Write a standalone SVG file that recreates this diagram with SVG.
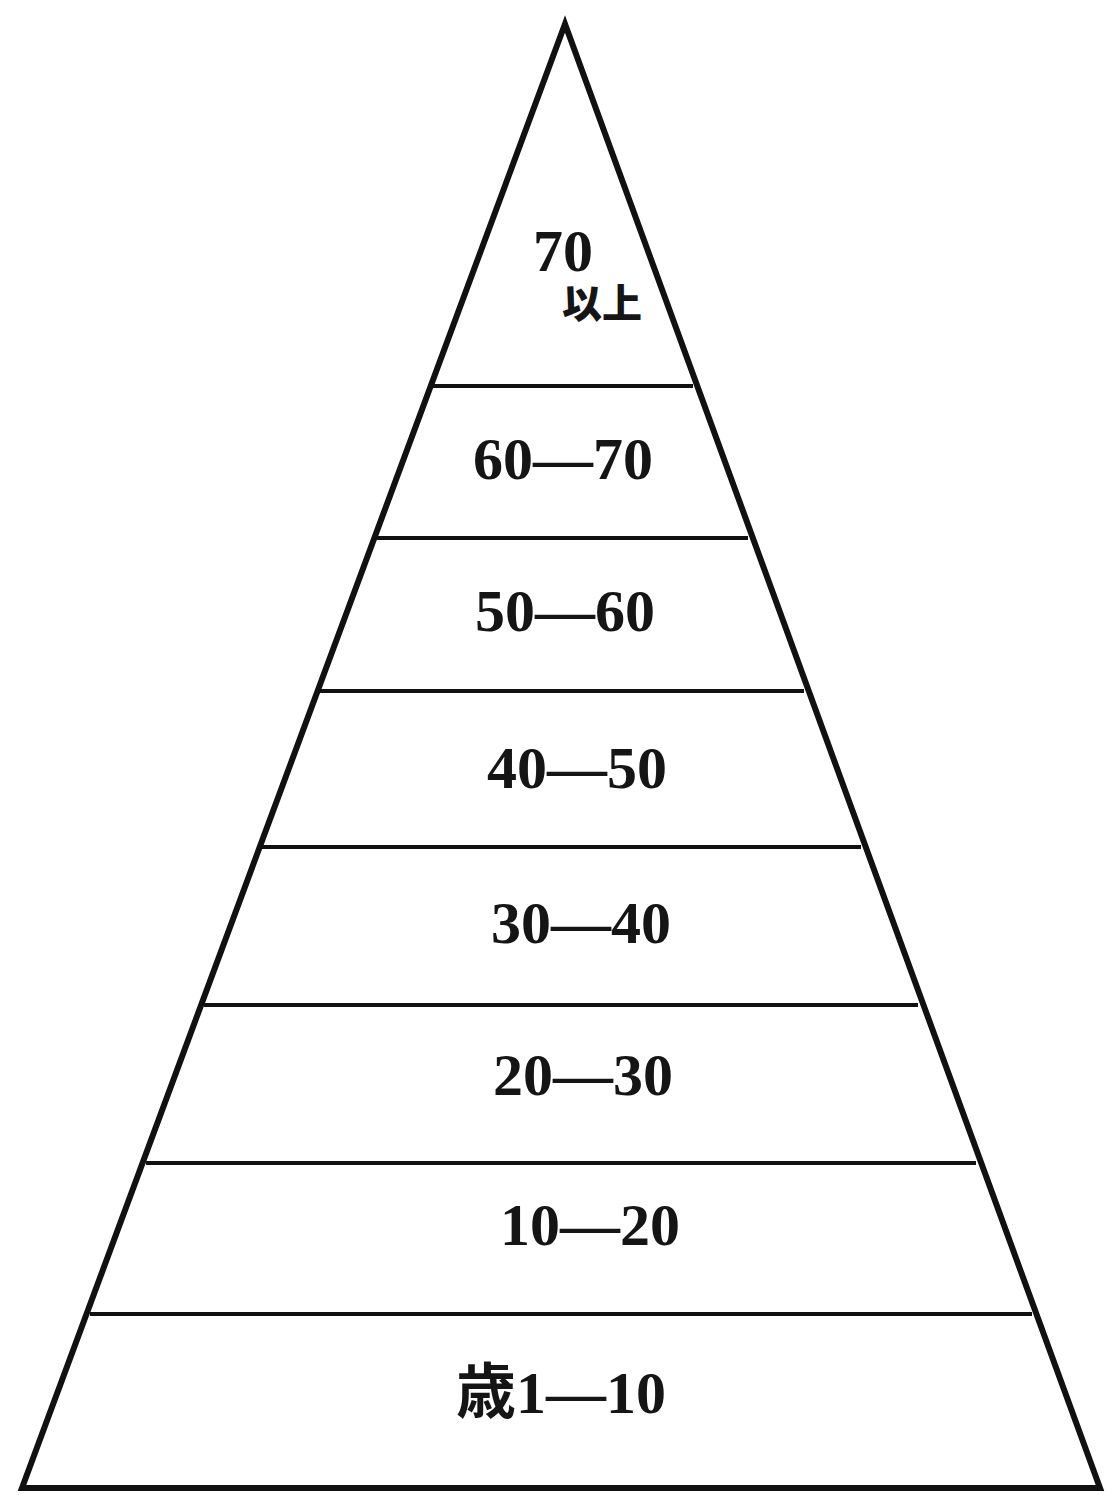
<svg xmlns="http://www.w3.org/2000/svg" width="1120" height="1495" viewBox="0 0 1120 1495">
<style>
.side{fill:none;stroke:#111;stroke-width:6;stroke-linejoin:miter}
.band{stroke:#111;stroke-width:4}
.lbl{font-family:"Liberation Serif","Noto Sans CJK JP",serif;font-weight:bold;font-size:60px;fill:#151515;text-anchor:middle}
.small{font-family:"Noto Sans CJK JP","Liberation Serif",serif;font-weight:900;font-size:40px;fill:#151515}
</style>
<rect width="1120" height="1495" fill="#fff"/>
<g id="pyramid">
<polygon class="side" points="565,24 22,1488 1100,1488"/>
</g>
<g id="connectors">
<line class="band" x1="433" y1="386" x2="693" y2="386"/>
<line class="band" x1="377" y1="538" x2="748" y2="538"/>
<line class="band" x1="320" y1="691" x2="804" y2="691"/>
<line class="band" x1="262" y1="847" x2="861" y2="847"/>
<line class="band" x1="204" y1="1005" x2="918" y2="1005"/>
<line class="band" x1="146" y1="1163" x2="976" y2="1163"/>
<line class="band" x1="90" y1="1314" x2="1032" y2="1314"/>
</g>
<g id="band-70">
<text class="lbl" x="563" y="271">70</text>
<text class="small" x="562" y="318">以上</text>
</g>
<g id="band-60"><text class="lbl" x="563" y="479">60—70</text></g>
<g id="band-50"><text class="lbl" x="565" y="631">50—60</text></g>
<g id="band-40"><text class="lbl" x="577" y="788">40—50</text></g>
<g id="band-30"><text class="lbl" x="581" y="943">30—40</text></g>
<g id="band-20"><text class="lbl" x="583" y="1095">20—30</text></g>
<g id="band-10"><text class="lbl" x="590" y="1245">10—20</text></g>
<g id="band-1"><text class="lbl" x="561" y="1413">歳1—10</text></g>
</svg>
